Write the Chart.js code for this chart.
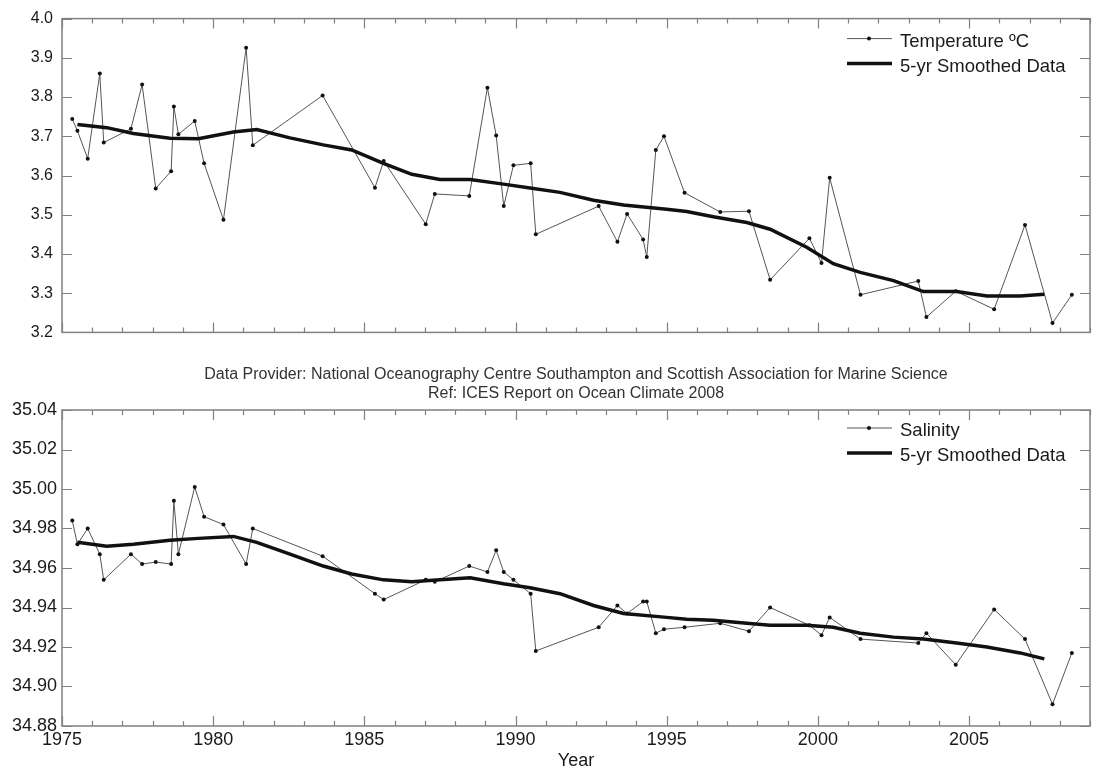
<!DOCTYPE html>
<html>
<head>
<meta charset="utf-8">
<script src="https://cdn.jsdelivr.net/npm/chart.js@4.4.1/dist/chart.umd.min.js"></script>
<style>
  html, body { margin: 0; padding: 0; background: #fff; }
  #wrap { position: relative; width: 1104px; height: 772px; }
  #tempChart { position: absolute; left: 0; top: 0; }
  #salChart { position: absolute; left: 0; top: 340px; }
</style>
</head>
<body>
<div id="wrap">
  <canvas id="tempChart" width="1104" height="351"></canvas>
  <canvas id="salChart" width="1104" height="432"></canvas>
</div>
<script>
// observation times (decimal year), shared by both series
const obsYears = [1975.34, 1975.51, 1975.85, 1976.25, 1976.38, 1977.28, 1977.65, 1978.10, 1978.61, 1978.70,
  1978.85, 1979.39, 1979.70, 1980.34, 1981.09, 1981.31, 1983.62, 1985.35, 1985.64, 1987.03,
  1987.33, 1988.47, 1989.07, 1989.36, 1989.61, 1989.93, 1990.50, 1990.67, 1992.75, 1993.37,
  1993.69, 1994.22, 1994.34, 1994.64, 1994.91, 1995.59, 1996.77, 1997.72, 1998.42, 1999.72,
  2000.12, 2000.39, 2001.41, 2003.32, 2003.59, 2004.56, 2005.83, 2006.85, 2007.76, 2008.40];

const temperature = [3.744, 3.714, 3.643, 3.860, 3.684, 3.719, 3.832, 3.567, 3.611, 3.776,
  3.705, 3.739, 3.631, 3.487, 3.926, 3.677, 3.804, 3.569, 3.637, 3.476,
  3.553, 3.548, 3.824, 3.702, 3.522, 3.626, 3.631, 3.450, 3.522, 3.431,
  3.502, 3.437, 3.392, 3.665, 3.700, 3.556, 3.507, 3.509, 3.334, 3.440,
  3.377, 3.594, 3.296, 3.331, 3.239, 3.305, 3.259, 3.474, 3.224, 3.296];

const salinity = [34.984, 34.972, 34.980, 34.967, 34.954, 34.967, 34.962, 34.963, 34.962, 34.994,
  34.967, 35.001, 34.986, 34.982, 34.962, 34.980, 34.966, 34.947, 34.944, 34.954,
  34.953, 34.961, 34.958, 34.969, 34.958, 34.954, 34.947, 34.918, 34.930, 34.941,
  34.937, 34.943, 34.943, 34.927, 34.929, 34.930, 34.932, 34.928, 34.940, 34.931,
  34.926, 34.935, 34.924, 34.922, 34.927, 34.911, 34.939, 34.924, 34.891, 34.917];

// 5-yr smoothed curves
const smoothYears = [1975.51, 1976.48, 1977.36, 1978.57, 1979.51, 1980.67, 1981.44, 1982.54, 1983.64, 1984.58,
  1985.63, 1986.57, 1987.50, 1988.50, 1989.60, 1990.48, 1991.47, 1992.58, 1993.57, 1995.00,
  1995.66, 1996.54, 1997.65, 1998.42, 1999.63, 2000.51, 2001.40, 2002.50, 2003.49, 2004.59,
  2005.59, 2006.69, 2007.49];

const tempSmooth = [3.730, 3.722, 3.707, 3.695, 3.694, 3.711, 3.717, 3.696, 3.678, 3.665,
  3.631, 3.603, 3.590, 3.590, 3.578, 3.568, 3.557, 3.537, 3.525, 3.514,
  3.508, 3.495, 3.480, 3.463, 3.417, 3.375, 3.353, 3.332, 3.304, 3.304,
  3.293, 3.293, 3.297];

const salSmooth = [34.973, 34.971, 34.972, 34.974, 34.975, 34.976, 34.973, 34.967, 34.961, 34.957,
  34.954, 34.953, 34.954, 34.955, 34.952, 34.950, 34.947, 34.941, 34.937, 34.935,
  34.934, 34.9335, 34.932, 34.931, 34.931, 34.930, 34.927, 34.925, 34.924, 34.922,
  34.920, 34.917, 34.914];

const FONT = "'Liberation Sans', Arial, sans-serif";
const toXY = (xs, ys) => xs.map((x, i) => ({ x: x, y: ys[i] }));

// matlab-like box with inward ticks
const boxTicks = {
  id: 'boxTicks',
  afterDraw(chart) {
    const { ctx, chartArea: a, scales: { x, y } } = chart;
    ctx.save();
    ctx.strokeStyle = '#808080';
    ctx.lineWidth = 1.5;
    ctx.strokeRect(a.left, a.top, a.right - a.left, a.bottom - a.top);
    ctx.lineWidth = 1.2;
    ctx.beginPath();
    x.ticks.forEach(t => {
      const px = Math.round(x.getPixelForValue(t.value)) + 0.5;
      const len = Math.round(t.value) % 5 === 0 ? 10 : 5;
      ctx.moveTo(px, a.bottom); ctx.lineTo(px, a.bottom - len);
      ctx.moveTo(px, a.top); ctx.lineTo(px, a.top + len);
    });
    y.ticks.forEach(t => {
      const py = Math.round(y.getPixelForValue(t.value)) + 0.5;
      ctx.moveTo(a.left, py); ctx.lineTo(a.left + 10, py);
      ctx.moveTo(a.right, py); ctx.lineTo(a.right - 10, py);
    });
    ctx.stroke();
    ctx.restore();
  }
};

// legend drawn inside the plot, top right
const insideLegend = {
  id: 'insideLegend',
  afterDraw(chart, args, opts) {
    const { ctx, chartArea: a } = chart;
    ctx.save();
    ctx.font = '18.5px ' + FONT;
    ctx.textBaseline = 'middle';
    chart.data.datasets.forEach((ds, i) => {
      const yy = a.top + opts.top + i * 25;
      const x0 = a.right - 243;
      ctx.strokeStyle = ds.borderColor;
      ctx.lineWidth = ds.borderWidth;
      ctx.beginPath();
      ctx.moveTo(x0, yy); ctx.lineTo(x0 + 45, yy);
      ctx.stroke();
      if (ds.pointRadius) {
        ctx.fillStyle = ds.pointBackgroundColor;
        ctx.beginPath();
        ctx.arc(x0 + 22, yy, ds.pointRadius, 0, Math.PI * 2);
        ctx.fill();
      }
      ctx.fillStyle = '#1a1a1a';
      ctx.fillText(ds.label, x0 + 53, yy + 3);
    });
    ctx.restore();
  }
};

// two-line source note above the lower plot
const sourceNote = {
  id: 'sourceNote',
  afterDraw(chart, args, opts) {
    const { ctx, chartArea: a } = chart;
    const cx = (a.left + a.right) / 2;
    ctx.save();
    ctx.font = '16px ' + FONT;
    ctx.fillStyle = '#333';
    ctx.textAlign = 'center';
    ctx.textBaseline = 'middle';
    opts.lines.forEach((s, i) => ctx.fillText(s, cx, opts.y + i * 19));
    ctx.restore();
  }
};

function makeChart(id, cfg) {
  return new Chart(document.getElementById(id), {
    type: 'line',
    data: {
      datasets: [
        {
          label: cfg.rawLabel,
          data: toXY(obsYears, cfg.raw),
          borderColor: '#555',
          borderWidth: 1,
          pointRadius: 2,
          pointBackgroundColor: '#111',
          pointBorderWidth: 0,
          tension: 0,
          order: 1
        },
        {
          label: '5-yr Smoothed Data',
          data: toXY(smoothYears, cfg.smooth),
          borderColor: '#111',
          borderWidth: 3.5,
          pointRadius: 0,
          tension: 0,
          order: 0
        }
      ]
    },
    options: {
      responsive: false,
      animation: false,
      devicePixelRatio: 1,
      layout: { padding: cfg.padding },
      plugins: {
        legend: { display: false },
        tooltip: { enabled: false },
        insideLegend: { top: cfg.legendTop },
        sourceNote: cfg.note
      },
      scales: {
        x: {
          type: 'linear',
          min: 1975,
          max: 2009,
          grid: { display: false, drawTicks: false },
          border: { display: false },
          ticks: {
            display: cfg.xLabels,
            stepSize: 1,
            autoSkip: false,
            maxRotation: 0,
            padding: 3,
            color: '#1a1a1a',
            font: { family: FONT, size: 18 },
            callback: v => (v % 5 === 0 ? String(v) : '')
          },
          title: {
            display: cfg.xLabels,
            text: 'Year',
            color: '#1a1a1a',
            font: { family: FONT, size: 18 },
            padding: { top: 0, bottom: 0 }
          },
          afterFit: s => { s.height = cfg.xHeight; }
        },
        y: {
          min: cfg.yMin,
          max: cfg.yMax,
          grid: { display: false, drawTicks: false },
          border: { display: false },
          ticks: {
            stepSize: cfg.yStep,
            padding: cfg.yPad,
            color: '#1a1a1a',
            font: { family: FONT, size: cfg.yFont },
            callback: v => Number(v).toFixed(cfg.yDec)
          },
          afterFit: s => { s.width = 62; }
        }
      }
    },
    plugins: [boxTicks, insideLegend].concat(cfg.note ? [sourceNote] : [])
  });
}

makeChart('tempChart', {
  rawLabel: 'Temperature ºC',
  raw: temperature,
  smooth: tempSmooth,
  yMin: 3.2, yMax: 4.0, yStep: 0.1, yDec: 1, yFont: 16, yPad: 9,
  xLabels: false, xHeight: 8,
  padding: { top: 17, right: 14, bottom: 0, left: 0 },
  legendTop: 20
});

makeChart('salChart', {
  rawLabel: 'Salinity',
  raw: salinity,
  smooth: salSmooth,
  yMin: 34.88, yMax: 35.04, yStep: 0.02, yDec: 2, yFont: 18, yPad: 5,
  xLabels: true, xHeight: 46,
  padding: { top: 70, right: 14, bottom: 0, left: 0 },
  legendTop: 18,
  note: {
    y: 35,
    lines: [
      'Data Provider: National Oceanography Centre Southampton and Scottish Association for Marine Science',
      'Ref: ICES Report on Ocean Climate 2008'
    ]
  }
});
</script>
</body>
</html>
